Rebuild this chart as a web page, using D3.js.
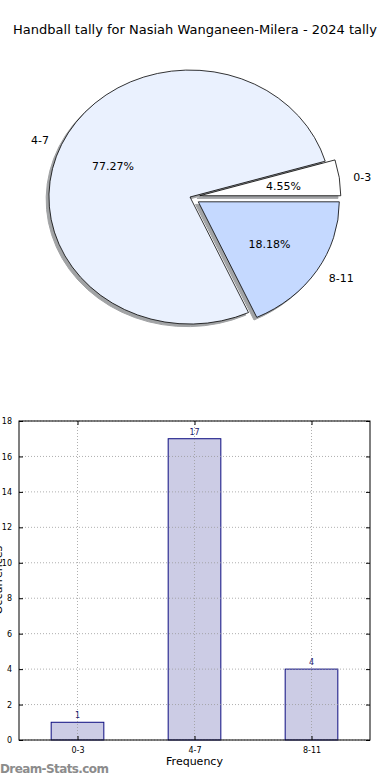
<!DOCTYPE html>
<html>
<head>
<meta charset="utf-8">
<script src="https://cdn.jsdelivr.net/npm/d3@7"></script>
<style>
  body { margin: 0; background: #fff; }
  svg { display: block; font-family: "DejaVu Sans", sans-serif; }
</style>
</head>
<body>
<svg id="chart" width="390" height="780"></svg>
<script>
const title = "Handball tally for Nasiah Wanganeen-Milera - 2024 tally";
const categories = ["0-3", "4-7", "8-11"];
const counts = [1, 17, 4];
const pieColors = ["#ffffff", "#eaf1fe", "#c5d9ff"];
const explode = [0.07, 0, 0.07];
const yTicks = [0, 2, 4, 6, 8, 10, 12, 14, 16, 18];

const svg = d3.select("#chart");

svg.append("text")
  .attr("x", 195).attr("y", 34)
  .attr("text-anchor", "middle")
  .style("font-size", "13px")
  .text(title);

// pie (elliptical, matplotlib style: starts at east, counterclockwise)
const cx = 190, cy = 197, rx = 141, ry = 127;
const total = d3.sum(counts);
const pie = d3.pie().sort(null).startAngle(0).endAngle(2 * Math.PI)(counts);
const arc = d3.arc().innerRadius(0).outerRadius(1);

const slices = pie.map((p, i) => {
  const mid = (p.startAngle + p.endAngle) / 2;
  return {
    ...p,
    i,
    mid,
    ox: cx + explode[i] * rx * Math.cos(mid),
    oy: cy - explode[i] * ry * Math.sin(mid),
    d: arc({ startAngle: Math.PI / 2 - p.endAngle, endAngle: Math.PI / 2 - p.startAngle }),
  };
});

const pieG = svg.append("g");

// shadows first
pieG.selectAll("path.shadow")
  .data(slices)
  .join("path")
  .attr("class", "shadow")
  .attr("d", (d) => d.d)
  .attr("transform", (d) => `translate(${d.ox - 2.8},${d.oy + 2.6}) scale(${rx},${ry})`)
  .attr("fill", "rgb(70,73,77)")
  .attr("stroke", "rgb(70,73,77)")
  .attr("vector-effect", "non-scaling-stroke")
  .attr("opacity", 0.5);

pieG.selectAll("path.wedge")
  .data(slices)
  .join("path")
  .attr("class", "wedge")
  .attr("d", (d) => d.d)
  .attr("transform", (d) => `translate(${d.ox},${d.oy}) scale(${rx},${ry})`)
  .attr("fill", (d) => pieColors[d.i])
  .attr("stroke", "#000")
  .attr("stroke-width", 0.8)
  .attr("vector-effect", "non-scaling-stroke")
  .attr("stroke-linejoin", "round");

pieG.selectAll("text.lab")
  .data(slices)
  .join("text")
  .attr("class", "lab")
  .attr("x", (d) => d.ox + 1.1 * rx * Math.cos(d.mid))
  .attr("y", (d) => d.oy - 1.1 * ry * Math.sin(d.mid) + 1)
  .attr("dy", "0.35em")
  .attr("text-anchor", (d) => (Math.cos(d.mid) < 0 ? "end" : "start"))
  .style("font-size", "11px")
  .text((d) => categories[d.i]);

pieG.selectAll("text.pct")
  .data(slices)
  .join("text")
  .attr("class", "pct")
  .attr("x", (d) => d.ox + 0.6 * rx * Math.cos(d.mid))
  .attr("y", (d) => d.oy - 0.6 * ry * Math.sin(d.mid) + 1)
  .attr("dy", "0.35em")
  .attr("text-anchor", "middle")
  .style("font-size", "11px")
  .text((d) => ((d.data / total) * 100).toFixed(2) + "%");

// bar chart
const plotL = 19, plotR = 370, plotT = 421, plotB = 740;
const x = d3.scaleLinear().domain([-0.5, 2.5]).range([plotL, plotR]);
const y = d3.scaleLinear().domain([0, 18]).range([plotB, plotT]);
const barW = 0.45;

const barG = svg.append("g");

barG.selectAll("rect.bar")
  .data(counts)
  .join("rect")
  .attr("class", "bar")
  .attr("x", (d, i) => x(i - barW / 2))
  .attr("width", x(barW) - x(0))
  .attr("y", (d) => y(d))
  .attr("height", (d) => y(0) - y(d))
  .attr("fill", "rgb(204,204,229)")
  .attr("stroke", "#0c0c80")
  .attr("stroke-width", 1);

// dotted grid drawn over the bars
barG.selectAll("line.hgrid")
  .data(yTicks)
  .join("line")
  .attr("class", "hgrid")
  .attr("x1", plotL).attr("x2", plotR)
  .attr("y1", (d) => y(d)).attr("y2", (d) => y(d))
  .attr("stroke", "#9a9a9a")
  .attr("stroke-width", 0.8)
  .attr("stroke-dasharray", "1,2");

barG.selectAll("line.vgrid")
  .data(categories)
  .join("line")
  .attr("class", "vgrid")
  .attr("x1", (d, i) => x(i)).attr("x2", (d, i) => x(i))
  .attr("y1", plotT).attr("y2", plotB)
  .attr("stroke", "#9a9a9a")
  .attr("stroke-width", 0.8)
  .attr("stroke-dasharray", "1,2");

barG.selectAll("text.val")
  .data(counts)
  .join("text")
  .attr("class", "val")
  .attr("x", (d, i) => x(i))
  .attr("y", (d) => y(d) - 4)
  .attr("text-anchor", "middle")
  .attr("fill", "#1c1c6e")
  .style("font-size", "8px")
  .text((d) => d);

// axes with inward ticks on all sides
const yAxisL = d3.axisLeft(y).tickValues(yTicks).tickSizeInner(-4).tickSizeOuter(0).tickPadding(7);
const yAxisR = d3.axisRight(y).tickValues(yTicks).tickSizeInner(-4).tickSizeOuter(0).tickFormat("");
const xAxisB = d3.axisBottom(x).tickValues([0, 1, 2]).tickSizeInner(-4).tickSizeOuter(0)
  .tickPadding(7).tickFormat((d) => categories[d]);
const xAxisT = d3.axisTop(x).tickValues([0, 1, 2]).tickSizeInner(-4).tickSizeOuter(0).tickFormat("");

function styleAxis(g) {
  g.select(".domain").remove();
  g.selectAll("text").style("font-size", "8px").style("font-family", "DejaVu Sans, sans-serif").attr("fill", "#000");
  g.selectAll("line").attr("stroke", "#000");
}

barG.append("g").attr("transform", `translate(${plotL},0)`).call(yAxisL).call(styleAxis);
barG.append("g").attr("transform", `translate(${plotR},0)`).call(yAxisR).call(styleAxis);
barG.append("g").attr("transform", `translate(0,${plotB})`).call(xAxisB).call(styleAxis);
barG.append("g").attr("transform", `translate(0,${plotT})`).call(xAxisT).call(styleAxis);

barG.append("rect")
  .attr("x", plotL).attr("y", plotT)
  .attr("width", plotR - plotL).attr("height", plotB - plotT)
  .attr("fill", "none")
  .attr("stroke", "#000")
  .attr("stroke-width", 1);

svg.append("text")
  .attr("x", (plotL + plotR) / 2).attr("y", 765)
  .attr("text-anchor", "middle")
  .style("font-size", "11px")
  .text("Frequency");

// y label sits mostly off the left edge, as in the original
svg.append("text")
  .attr("transform", "translate(2,580) rotate(-90)")
  .attr("text-anchor", "middle")
  .style("font-size", "11px")
  .text("Occurrences");

svg.append("text")
  .attr("x", 0).attr("y", 773)
  .attr("fill", "#8c8c8c")
  .style("font-size", "12px")
  .style("font-weight", "bold")
  .style("letter-spacing", "-0.6px")
  .text("Dream-Stats.com");
</script>
</body>
</html>
